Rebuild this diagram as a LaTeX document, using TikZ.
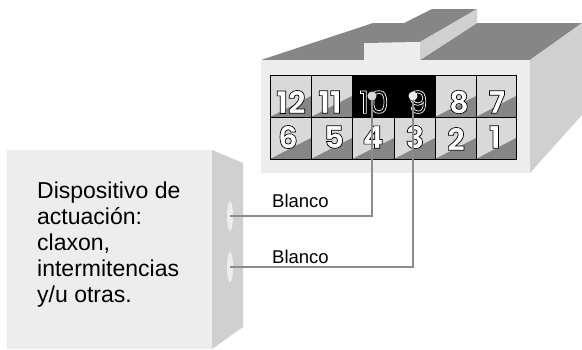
\documentclass[tikz,border=0pt]{standalone}
\usepackage{fontspec}
\setmainfont{Poppins}
\newfontfamily\labelfont{Liberation Sans}
\usetikzlibrary{shapes.geometric}
\definecolor{facelight}{HTML}{EDEDED}
\definecolor{faceside}{HTML}{D0D0D0}
\definecolor{facedark}{HTML}{868686}
\definecolor{celllight}{HTML}{D9D9D9}
\definecolor{wiregray}{HTML}{8C8C8C}
\newcommand{\pinnum}[1]{\special{pdf:code 2 Tr 0.7 w 0 0 0 RG}#1\special{pdf:code 0 Tr}}
\newcommand{\pinnumblack}[1]{\special{pdf:code 2 Tr 0.7 w 1 1 1 RG}#1\special{pdf:code 0 Tr 0 0 0 RG}}
\tikzset{
	pinlabel/.style={font=\fontsize{31}{31}\selectfont\bfseries,text=white,inner sep=0pt},
	pinlabelblack/.style={font=\fontsize{31}{31}\selectfont,text=black,inner sep=0pt},
	wirelabel/.style={font=\labelfont\fontsize{18.5}{18.5}\selectfont,anchor=base west,inner sep=0pt},
	wire/.style={draw=wiregray,line width=2pt},
	hole/.style={ellipse,fill=facelight,minimum width=6pt,minimum height=30pt,inner sep=0pt},
	pindot/.style={circle,minimum size=9pt,inner sep=0pt},
}
\begin{document}
\begin{tikzpicture}[x=1pt,y=-1pt]
	\useasboundingbox (0,0) rectangle (582,349);
	% Connector body
	\fill[facedark] (261,60) -- (373,23) -- (404,23) -- (432,9) -- (477,9) -- (420,42) -- (364,43) -- (364,60) -- cycle;
	\fill[facedark] (420,60) -- (477,23) -- (582,23) -- (530,60) -- cycle;
	\fill[faceside] (420,42) -- (477,9) -- (477,23) -- (420,60) -- cycle;
	\fill[faceside] (530,60) -- (582,23) -- (582,115) -- (530,173) -- cycle;
	\fill[facelight] (261,60) rectangle (530,173);
	\fill[facelight] (364,43) rectangle (420,60);
	% Cells of the plug
	\foreach \xa/\xb/\ya/\yb in {270/311/75/117, 311/352/75/117, 435/476/75/117, 476/516/75/117,
		270/311/117/159, 311/352/117/159, 352/394/117/159, 394/435/117/159, 435/476/117/159, 476/516/117/159} {
		\fill[celllight] (\xa,\ya) rectangle (\xb,\yb);
		\fill[facedark] (\xa,\yb) -- (\xb,\ya+21) -- (\xb,\yb) -- cycle;
	}
	\fill[black] (352,75) rectangle (435,117);
	\draw[line width=1pt] (270,75) rectangle (516,159);
	\draw[line width=1pt] (270,117) -- (516,117);
	\foreach \x in {311,352,435,476} \draw[line width=1pt] (\x,75) -- (\x,117);
	\foreach \x in {311,352,394,435,476} \draw[line width=1pt] (\x,117) -- (\x,159);
	% Pin numbers
	\foreach \num/\x/\y in {12/291/102, 11/330/102, 8/459/102, 7/497/102,
		6/288/137, 5/334/137, 4/373/137, 3/415/137, 2/456/139, 1/495/137}
		\node[pinlabel] (pin label \num) at (\x,\y) {\pinnum{\num}};
	\foreach \num/\x/\y in {10/374/102, 9/418/102}
		\node[pinlabelblack] (pin label \num) at (\x,\y) {\pinnumblack{\num}};
	% Actuating device
	\fill[faceside] (212,150) -- (243,163) -- (243,327) -- (212,349) -- cycle;
	\fill[facelight] (7,150) rectangle (212,349);
	\node[hole] (hole one) at (230,216) {};
	\node[hole] (hole two) at (230,267) {};
	\node[anchor=base west,inner sep=0pt,align=left,font=\labelfont\fontsize{23}{26}\selectfont] (device) at (37,302)
		{Dispositivo de\\actuación:\\claxon,\\intermitencias\\y/u otras.};
	% Wires
	\node[pindot,fill=celllight] (pin ten) at (372,96) {};
	\node[pindot,fill=facelight] (pin nine) at (413,96) {};
	\draw[wire] (pin ten.center) |- (hole one.center);
	\draw[wire] (pin nine.center) |- (hole two.center);
	\node[pindot,fill=celllight,minimum size=8pt] at (pin ten) {};
	\node[pindot,fill=facelight,minimum size=8pt] at (pin nine) {};
	\node[wirelabel] (label one) at (272,207) {Blanco};
	\node[wirelabel] (label two) at (272,263) {Blanco};
\end{tikzpicture}
\end{document}
